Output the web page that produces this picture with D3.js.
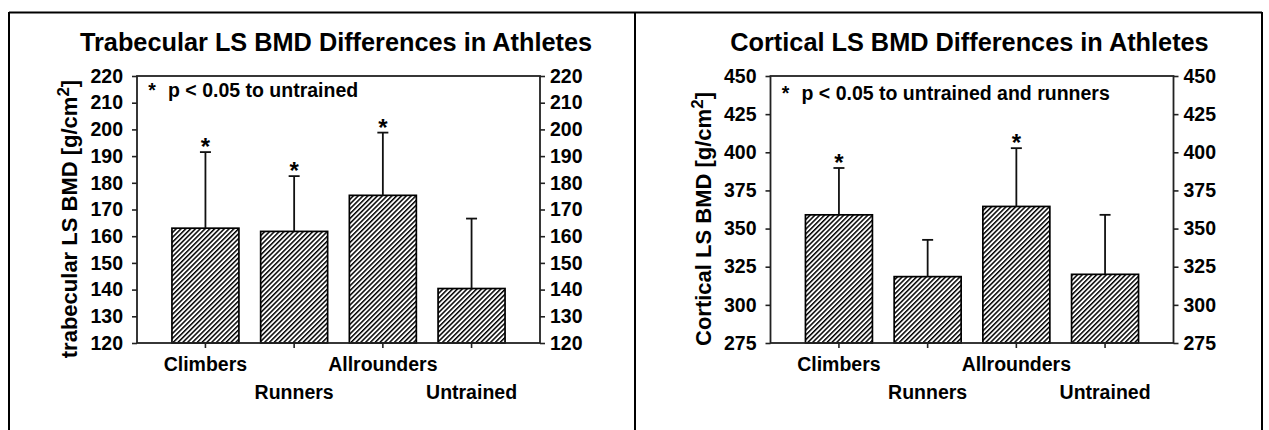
<!DOCTYPE html>
<html>
<head>
<meta charset="utf-8">
<script src="https://cdn.jsdelivr.net/npm/d3@7"></script>
<style>
  html, body { margin: 0; padding: 0; background: #fff; }
  svg { display: block; }
  text { font-family: "Liberation Sans", Arial, sans-serif; font-weight: bold; fill: #000; }
</style>
</head>
<body>
<svg id="chart" width="1269" height="430"></svg>
<script>
// ---- data ----
const categories = ["Climbers", "Runners", "Allrounders", "Untrained"];
const labelRow = [0, 1, 0, 1]; // staggered category label rows

const trabTitle = "Trabecular LS BMD Differences in Athletes";
const trabYLabel = "trabecular LS BMD [g/cm";
const trabNote = "p < 0.05 to untrained";
const trabMean = [163.0, 161.8, 175.3, 140.4];
const trabSD = [28.5, 20.7, 23.5, 26.2];
const trabSig = [true, true, true, false];
const trabTicks = [120, 130, 140, 150, 160, 170, 180, 190, 200, 210, 220];

const cortTitle = "Cortical LS BMD Differences in Athletes";
const cortYLabel = "Cortical LS BMD [g/cm";
const cortNote = "p < 0.05 to untrained and runners";
const cortMean = [359.0, 318.5, 364.5, 320.0];
const cortSD = [30.7, 24.1, 38.2, 39.0];
const cortSig = [true, false, true, false];
const cortTicks = [275, 300, 325, 350, 375, 400, 425, 450];

// ---- drawing ----
const svg = d3.select("#chart");

// hatch pattern
const defs = svg.append("defs");
const pat = defs.append("pattern")
  .attr("id", "hatch")
  .attr("patternUnits", "userSpaceOnUse")
  .attr("width", 3.4).attr("height", 10)
  .attr("patternTransform", "rotate(45)");
pat.append("rect").attr("width", 3.4).attr("height", 10).attr("fill", "#fff");
pat.append("line").attr("x1", 0.75).attr("y1", 0).attr("x2", 0.75).attr("y2", 10)
  .attr("stroke", "#000").attr("stroke-width", 1.5);

// outer frame lines
const frame = svg.append("g").attr("stroke", "#000").attr("stroke-width", 2);
frame.append("line").attr("x1", 9).attr("x2", 1262).attr("y1", 12.5).attr("y2", 12.5);
[9, 635, 1262].forEach(x => frame.append("line").attr("x1", x).attr("x2", x).attr("y1", 12).attr("y2", 430));

const plotTop = 76, plotBottom = 343, plotW = 403;

const panels = [
  { x0: 137, title: trabTitle, ylab: trabYLabel, note: trabNote, mean: trabMean, sd: trabSD, sig: trabSig, ticks: trabTicks, noteY: 97 },
  { x0: 770.5, title: cortTitle, ylab: cortYLabel, note: cortNote, mean: cortMean, sd: cortSD, sig: cortSig, ticks: cortTicks, noteY: 100 }
];

panels.forEach(p => {
  const g = svg.append("g");
  const x1 = p.x0 + plotW;
  const y = d3.scaleLinear()
    .domain([d3.min(p.ticks), d3.max(p.ticks)])
    .range([plotBottom, plotTop]);
  const x = d3.scaleBand()
    .domain(categories)
    .range([p.x0, x1])
    .paddingInner(0.245)
    .paddingOuter(0.394);

  // title
  g.append("text")
    .attr("x", p.x0 + 199).attr("y", 51)
    .attr("text-anchor", "middle")
    .attr("font-size", 25.3)
    .text(p.title);

  // y-axis title
  const yt = g.append("text")
    .attr("transform", `translate(${p.x0 - 60},219) rotate(-90)`)
    .attr("text-anchor", "middle")
    .attr("font-size", 22);
  yt.append("tspan").text(p.ylab);
  yt.append("tspan").attr("font-size", 17).attr("dy", -8).text("2");
  yt.append("tspan").attr("dy", 8).text("]");

  // bars
  const data = categories.map((c, i) => ({ c, m: p.mean[i], s: p.sd[i], sig: p.sig[i], row: labelRow[i] }));
  g.selectAll("rect.bar").data(data).join("rect")
    .attr("class", "bar")
    .attr("x", d => x(d.c))
    .attr("y", d => y(d.m))
    .attr("width", x.bandwidth())
    .attr("height", d => y.range()[0] - y(d.m))
    .attr("fill", "url(#hatch)")
    .attr("stroke", "#000")
    .attr("stroke-width", 1.7);

  // error bars (upper)
  const cx = d => x(d.c) + x.bandwidth() / 2;
  const eb = g.append("g").attr("stroke", "#111").attr("stroke-width", 1.8);
  eb.selectAll("line.v").data(data).join("line")
    .attr("x1", cx).attr("x2", cx)
    .attr("y1", d => y(d.m)).attr("y2", d => y(d.m + d.s));
  eb.selectAll("line.cap").data(data).join("line")
    .attr("x1", d => cx(d) - 5.5).attr("x2", d => cx(d) + 5.5)
    .attr("y1", d => y(d.m + d.s)).attr("y2", d => y(d.m + d.s));

  // significance stars
  g.selectAll("text.star").data(data.filter(d => d.sig)).join("text")
    .attr("x", cx)
    .attr("y", d => y(d.m + d.s) + 3)
    .attr("text-anchor", "middle")
    .attr("font-size", 24)
    .text("*");

  // axes
  const axL = g.append("g").attr("transform", `translate(${p.x0},0)`)
    .call(d3.axisLeft(y).tickValues(p.ticks).tickSize(5).tickSizeOuter(0).tickPadding(9));
  const axR = g.append("g").attr("transform", `translate(${x1},0)`)
    .call(d3.axisRight(y).tickValues(p.ticks).tickSize(5).tickSizeOuter(0).tickPadding(5));
  const axB = g.append("g").attr("transform", `translate(0,${plotBottom})`)
    .call(d3.axisBottom(x).tickSize(5).tickSizeOuter(0).tickFormat(""));
  [axL, axR, axB].forEach(a => {
    a.select(".domain").remove();
    a.selectAll("line").attr("stroke", "#222").attr("stroke-width", 1.6);
    a.selectAll("text").attr("font-size", 19.5).attr("fill", "#000")
      .attr("font-family", "'Liberation Sans', Arial, sans-serif").attr("font-weight", "bold");
  });

  // plot frame
  g.append("rect")
    .attr("x", p.x0).attr("y", plotTop)
    .attr("width", plotW).attr("height", plotBottom - plotTop)
    .attr("fill", "none").attr("stroke", "#222").attr("stroke-width", 1.8);

  // category labels (two staggered rows)
  g.selectAll("text.cat").data(data).join("text")
    .attr("x", cx)
    .attr("y", d => d.row === 0 ? 371 : 399)
    .attr("text-anchor", "middle")
    .attr("font-size", 19.5)
    .text(d => d.c);

  // note
  g.append("text").attr("x", p.x0 + 15).attr("y", p.noteY).attr("font-size", 19.5)
    .attr("text-anchor", "middle").text("*");
  g.append("text").attr("x", p.x0 + 31).attr("y", p.noteY).attr("font-size", 19.5)
    .text(p.note);
});
</script>
</body>
</html>
